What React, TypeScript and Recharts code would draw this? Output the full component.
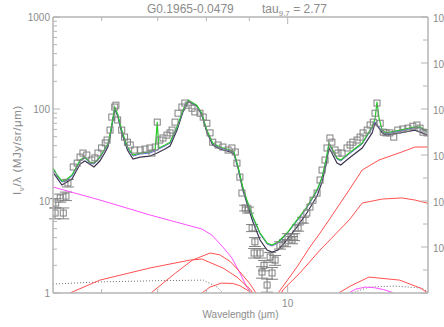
import React from 'react';
import { ComposedChart, Line, Scatter, XAxis, YAxis, ErrorBar } from 'recharts';

// ---------- observed spectrum ----------
const obsWave = [5.28,5.29,5.355,5.40,5.44,5.47,5.55,5.61,5.655,5.70,5.76,5.84,5.89,5.94,6.00,6.06,6.09,6.14,6.17,6.22,6.24,6.27,6.34,6.39,6.44,6.49,6.57,6.67,6.76,6.85,6.89,6.95,6.99,7.04,7.10,7.18,7.24,7.28,7.34,7.40,7.48,7.54,7.61,7.69,7.75,7.86,7.93,8.01,8.08,8.14,8.26,8.37,8.49,8.58,8.66,8.70,8.77,8.82,8.90,8.97,9.07,9.14,9.12,9.27,9.37,9.32,9.45,9.53,9.58,9.66,9.79,9.93,10.01,10.12,10.18,10.29,10.43,10.54,10.63,10.72,10.84,10.93,10.99,11.08,11.14,11.23,11.29,11.39,11.48,11.61,11.77,11.87,11.96,12.1,12.2,12.3,12.44,12.54,12.65,12.71,12.78,12.89,13.0,13.1,13.24,13.38,13.53,13.72,13.91,14.1,14.26,14.38,14.5,14.66];
const obsFlux = [7.4,9.5,10.8,7.4,11.3,15.7,23.4,25.8,30.0,33.2,31.6,27.9,29.4,33.2,37.7,42.8,46,59,81.7,105,110,76,59,49.5,43.6,40.6,35.8,35.8,36.7,37.7,33.2,38.6,72,46,48.4,52,55,59,72,90,105,116,110,102,93,90,81.7,70,55,43.6,40.6,38.6,35.8,37.7,34.1,25.8,18.2,12.2,8.4,8.0,5.1,3.6,2.72,2.72,2.0,1.69,1.22,2.46,1.65,2.28,3.3,3.5,4.06,3.77,4.06,5.1,6.2,7.4,8.6,10.2,12.2,16.9,21.7,27.9,37.7,48.4,43.6,35.8,33.2,33.2,37.7,40.6,43.6,46,49.5,55,59,67,72,90,116,70,56,55,55,49.5,59,60.6,62,65,67,62,56,55];
// error bars only drawn where they stick out of the symbol (null = hidden inside)
const obsErr = [1.0,1.1,1.1,1.0,1.2,1.5,null,null,null,null,null,null,null,null,null,null,null,null,null,null,null,null,null,null,null,null,null,null,null,null,null,null,null,null,null,null,null,null,null,null,null,null,null,null,null,null,null,null,null,null,null,null,null,null,null,null,null,null,0.6,0.6,0.45,0.4,0.32,0.32,0.26,0.24,0.2,0.3,0.24,0.28,0.3,0.32,0.35,0.34,0.35,0.4,0.45,null,null,null,null,null,null,null,null,null,null,null,null,null,null,null,null,null,null,null,null,null,null,null,null,null,null,null,null,null,null,null,null,null,null,null,null,null];

// ---------- fitted models ----------
const fitWave = [5.25,5.32,5.38,5.44,5.53,5.59,5.655,5.73,5.81,5.875,5.97,6.06,6.11,6.16,6.22,6.27,6.34,6.44,6.54,6.67,6.85,6.95,6.99,7.02,7.14,7.24,7.38,7.50,7.61,7.79,7.90,8.01,8.14,8.305,8.54,8.63,8.73,8.84,8.94,9.09,9.27,9.45,9.58,9.74,9.98,10.26,10.54,10.84,10.99,11.11,11.20,11.29,11.45,11.57,11.84,12.27,12.61,12.71,12.78,12.85,12.96,13.1,13.61,14.18,14.38,14.7];
const totalWithLines = [22.8,18.7,16.5,16.9,19.2,22.8,27.9,30.0,26.5,25.8,30.0,37.7,42.6,62,105,88,59,38.6,31.6,33.2,34.1,36.7,72,37.7,40.6,43.6,64,97.5,125,110,90,59,42.6,38.6,35.8,34.1,23.4,14.2,10.25,6.7,4.49,3.49,3.32,3.58,4.49,6.22,8.6,13.2,18.2,27.9,42.6,37.7,29.3,27.9,33.2,42.6,64,77.7,120,79.8,59,55,59,64,64,56];
const continuumFit = [22.3,18.2,16.1,16.5,18.7,22.3,27.2,29.3,25.8,25.2,29.3,36.7,41.6,60.6,102,86,57.6,37.7,30.8,32.4,33.2,35,36,36.7,39.6,42.6,62,95,122,108,88,57.6,41.6,37.7,35,33.2,22.8,13.8,10,6.5,4.38,3.4,3.24,3.49,4.38,6.07,8.4,12.8,17.8,27.2,41.6,36.7,28.6,27.2,32.4,41.6,62,72,68,63,57.6,53.6,57.6,62.5,62.5,55];
const blackWave = [5.25,5.38,5.53,5.655,5.73,5.875,5.97,6.06,6.11,6.16,6.22,6.27,6.34,6.44,6.54,6.67,6.85,6.99,7.14,7.24,7.38,7.50,7.61,7.79,7.90,8.01,8.14,8.305,8.54,8.63,8.73,8.84,8.94,9.09,9.27,9.45,9.58,9.74,9.98,10.26,10.54,10.84,10.99,11.11,11.20,11.29,11.45,11.57,11.84,12.27,12.61,12.71,12.85,12.96,13.1,13.61,14.18,14.7];
const blackFlux = [20.6,14.9,17.3,25.2,27.2,23.4,27.2,34.1,39.6,59,100,84,55,35.8,28.6,30.0,30.8,33.2,36.7,39.6,59,92.6,120,108,86,56,40.6,36.7,34.1,32.4,22.3,13.2,9.5,5.92,3.77,2.93,2.79,2.93,3.77,5.22,7.4,11.3,16.1,24.6,37.7,33.2,25.8,24.6,29.3,37.7,55,70.3,62,55,52,55,59,52];

// ---------- components ----------
const hotWave = [5.25,5.97,6.85,7.90,8.12,8.37,8.58,8.77,8.94,9.02,9.12];
const hotFlux = [14.2,10.25,7.05,4.96,4.27,3.16,2.40,1.65,1.16,1.03,0.85];
const hot2Wave = [11.8,11.87,12.05,12.37,12.7,13.0,13.31,13.45];
const hot2Flux = [0.95,1.02,1.1,1.16,1.14,1.09,1.02,0.95];
const dotWave = [5.25,5.97,7.0,7.93,8.24,8.37,8.45];
const dotFlux = [1.25,1.32,1.36,1.38,1.16,1.0,0.9];
const dot2Wave = [11.85,11.93,12.51,13.42,14.46,14.7];
const dot2Flux = [0.95,1.0,1.16,1.19,1.13,1.025];
const redAWave = [5.45,5.5,5.97,6.85,7.65,7.9,8.37,8.7,9.02,9.12];
const redAFlux = [0.95,1.0,1.38,1.87,2.28,2.34,1.87,1.49,1.1,0.95];
const redBWave = [6.82,6.87,7.35,7.7,8.08,8.3,8.54,8.77,9.02,9.2];
const redBFlux = [0.93,1.0,1.65,2.28,2.72,2.6,2.2,1.7,1.25,0.95];
const redCWave = [7.85,7.9,8.08,8.33,8.6,8.77,9.02,9.1];
const redCFlux = [0.95,1.0,1.16,1.28,1.27,1.2,1.03,0.95];
const redDWave = [9.66,9.74,10.26,10.63,10.93,11.2,11.84,12.27,12.85,13.68,14.18,14.7];
const redDFlux = [0.95,1.0,1.92,3.16,4.49,6.22,13.2,21.7,27.9,34.1,38.6,38.6];
const redEWave = [9.8,9.87,10.34,10.93,11.84,12.27,12.96,13.68,14.18,14.66,14.7];
const redEFlux = [0.95,1.08,1.65,2.93,6.22,9.5,10.5,10.8,10.25,9.5,9.4];
const redFWave = [11.45,11.5,11.9,12.5,13.6,14.4,14.7];
const redFFlux = [0.95,1.0,1.2,1.49,1.38,1.13,1.0];

// ---------- axes ----------
const xTicks = [6, 7, 8, 9, 10];
const xLabels = [10];
const yTicks = [1,2,3,4,5,6,7,8,9,10,20,30,40,50,60,70,80,90,100,200,300,400,500,600,700,800,900,1000];
const yLabels = [1, 10, 100, 1000];
const rTicks = [1, 0.316, 0.1, 0.0316, 0.01, 0.00316, 0.001, 0.000316, 0.0001, 0.0000316, 0.00001, 0.00000316, 0.000001];
const rLabelExps = ['0', '-1', '-2', '-3', '-4', '-5'];

const title = 'G0.1965-0.0479';
const tauName = 'tau';
const tauSub = '9.7';
const tauValue = ' = 2.77';

const AXIS = '#b4b4b4';
const TXT = '#8c8c8c';
const FONT = '"Liberation Sans", Arial, sans-serif';

const rows = (xs: number[], ys: number[], es?: (number | null)[]) =>
  xs.map((x, i) => (es ? { x, y: ys[i], err: es[i] } : { x, y: ys[i] }));

const BottomTick = (p: any) => {
  const { x, y, payload } = p;
  const major = xLabels.includes(payload.value);
  return (
    <g>
      <line x1={x} x2={x} y1={y} y2={y - (major ? 7 : 4)} stroke={AXIS} strokeWidth={1} />
      {major && (
        <text x={x} y={y + 14} textAnchor="middle" fill={TXT} fontSize={10} fontFamily={FONT}>
          {payload.value}
        </text>
      )}
    </g>
  );
};
const TopTick = (p: any) => {
  const { x, y, payload } = p;
  const major = xLabels.includes(payload.value);
  return <line x1={x} x2={x} y1={y} y2={y + (major ? 7 : 4)} stroke={AXIS} strokeWidth={1} />;
};
const LeftTick = (p: any) => {
  const { x, y, payload } = p;
  const major = yLabels.includes(payload.value);
  return (
    <g>
      <line x1={x} x2={x + (major ? 7 : 4)} y1={y} y2={y} stroke={AXIS} strokeWidth={1} />
      {major && (
        <text x={x - 3} y={y + 4} textAnchor="end" fill={TXT} fontSize={10} fontFamily={FONT}>
          {payload.value}
        </text>
      )}
    </g>
  );
};
const RightTick = (p: any) => {
  const { x, y, index } = p;
  const major = index % 2 === 0;
  const exp = rLabelExps[index / 2];
  return (
    <g>
      <line x1={x} x2={x - (major ? 7 : 5)} y1={y} y2={y} stroke={AXIS} strokeWidth={1} />
      {major && exp !== undefined && (
        <text x={x + 5} y={y + 5} fill={TXT} fontSize={10} fontFamily={FONT}>
          10<tspan fontSize={7} dy={-4}>{exp}</tspan>
        </text>
      )}
    </g>
  );
};

const TitleLabel = (p: any) => {
  const vb = p.viewBox || { x: 53, y: 0, width: 375, height: 17 };
  return (
    <g fill={TXT} fontFamily={FONT} fontSize={12}>
      <text x={vb.x + 94} y={13}>{title}</text>
      <text x={vb.x + 209} y={13}>
        {tauName}
        <tspan fontSize={8} dy={3}>{tauSub}</tspan>
        <tspan dy={-3}>{tauValue}</tspan>
      </text>
    </g>
  );
};
const XLabel = (p: any) => {
  const vb = p.viewBox;
  return (
    <text x={vb.x + vb.width / 2} y={vb.y + 25} textAnchor="middle" fill={TXT} fontSize={10} fontFamily={FONT}>
      Wavelength (μm)
    </text>
  );
};
const YLabel = (p: any) => {
  const vb = p.viewBox;
  const cx = vb.x + 21;
  const cy = vb.y + vb.height / 2 - 5;
  return (
    <text x={cx} y={cy} transform={`rotate(-90 ${cx} ${cy})`} textAnchor="middle" fill={TXT} fontSize={11.5} letterSpacing={0.6} fontFamily={FONT}>
      I<tspan fontSize={8} dy={3}>ν</tspan><tspan dy={-3}>/λ (MJy/sr/μm)</tspan>
    </text>
  );
};

const Square = (p: any) => {
  const { cx, cy } = p;
  if (cx == null || cy == null) return null;
  return <rect x={cx - 3} y={cy - 3} width={6} height={6} fill="none" stroke="#808080" strokeWidth={1} />;
};

const ln = (key: string, data: any[], stroke: string, extra: any = {}) => (
  <Line
    key={key}
    data={data}
    dataKey="y"
    type="linear"
    stroke={stroke}
    strokeWidth={1}
    dot={false}
    activeDot={false}
    isAnimationActive={false}
    {...extra}
  />
);

export default function App() {
  return (
    <div style={{ position: 'absolute', left: 0, top: 0, width: 444, height: 327, overflow: 'hidden', background: '#fff' }}>
      <ComposedChart width={444} height={327} margin={{ top: 0, right: 0, bottom: 0, left: 0 }}>
        <XAxis
          dataKey="x"
          type="number"
          scale="log"
          domain={[5.25, 14.7]}
          allowDataOverflow
          ticks={xTicks}
          interval={0}
          tickSize={0}
          tickMargin={0}
          tickLine={false}
          tick={BottomTick}
          height={34}
          axisLine={{ stroke: AXIS, strokeWidth: 1.5 }}
          label={<XLabel />}
        />
        <XAxis
          xAxisId="top"
          orientation="top"
          dataKey="x"
          type="number"
          scale="log"
          domain={[5.25, 14.7]}
          allowDataOverflow
          ticks={xTicks}
          interval={0}
          tickSize={0}
          tickMargin={0}
          tickLine={false}
          tick={TopTick}
          height={17}
          axisLine={{ stroke: AXIS, strokeWidth: 1.5 }}
          label={<TitleLabel />}
        />
        <YAxis
          dataKey="y"
          type="number"
          scale="log"
          domain={[1, 1000]}
          allowDataOverflow
          ticks={yTicks}
          interval={0}
          tickSize={0}
          tickMargin={0}
          tickLine={false}
          tick={LeftTick}
          width={53}
          axisLine={{ stroke: AXIS, strokeWidth: 1.5 }}
          label={<YLabel />}
        />
        <YAxis
          yAxisId="right"
          orientation="right"
          dataKey="y"
          type="number"
          scale="log"
          domain={[0.000001, 1]}
          allowDataOverflow
          ticks={rTicks}
          interval={0}
          tickSize={0}
          tickMargin={0}
          tickLine={false}
          tick={RightTick}
          width={16}
          axisLine={{ stroke: AXIS, strokeWidth: 1.5 }}
        />
        <Scatter data={rows(obsWave, obsFlux, obsErr)} dataKey="y" shape={Square} isAnimationActive={false}>
          <ErrorBar dataKey="err" direction="y" width={6} stroke="#808080" strokeWidth={1} isAnimationActive={false} />
        </Scatter>
        {ln('dot1', rows(dotWave, dotFlux), '#707070', { strokeDasharray: '1 2' })}
        {ln('dot2', rows(dot2Wave, dot2Flux), '#707070', { strokeDasharray: '1 2' })}
        {ln('hot1', rows(hotWave, hotFlux), '#ff50ff')}
        {ln('hot2', rows(hot2Wave, hot2Flux), '#ff50ff')}
        {ln('ra', rows(redAWave, redAFlux), '#ff5050')}
        {ln('rb', rows(redBWave, redBFlux), '#ff5050')}
        {ln('rc', rows(redCWave, redCFlux), '#ff5050')}
        {ln('rd', rows(redDWave, redDFlux), '#ff5050')}
        {ln('re', rows(redEWave, redEFlux), '#ff5050')}
        {ln('rf', rows(redFWave, redFFlux), '#ff5050')}
        {ln('black', rows(blackWave, blackFlux), '#3c3450', { strokeWidth: 1.2 })}
        {ln('blue', rows(fitWave, continuumFit), '#6a60e0')}
        {ln('green', rows(fitWave, totalWithLines), '#28c828', { strokeWidth: 1.2 })}
      </ComposedChart>
    </div>
  );
}
